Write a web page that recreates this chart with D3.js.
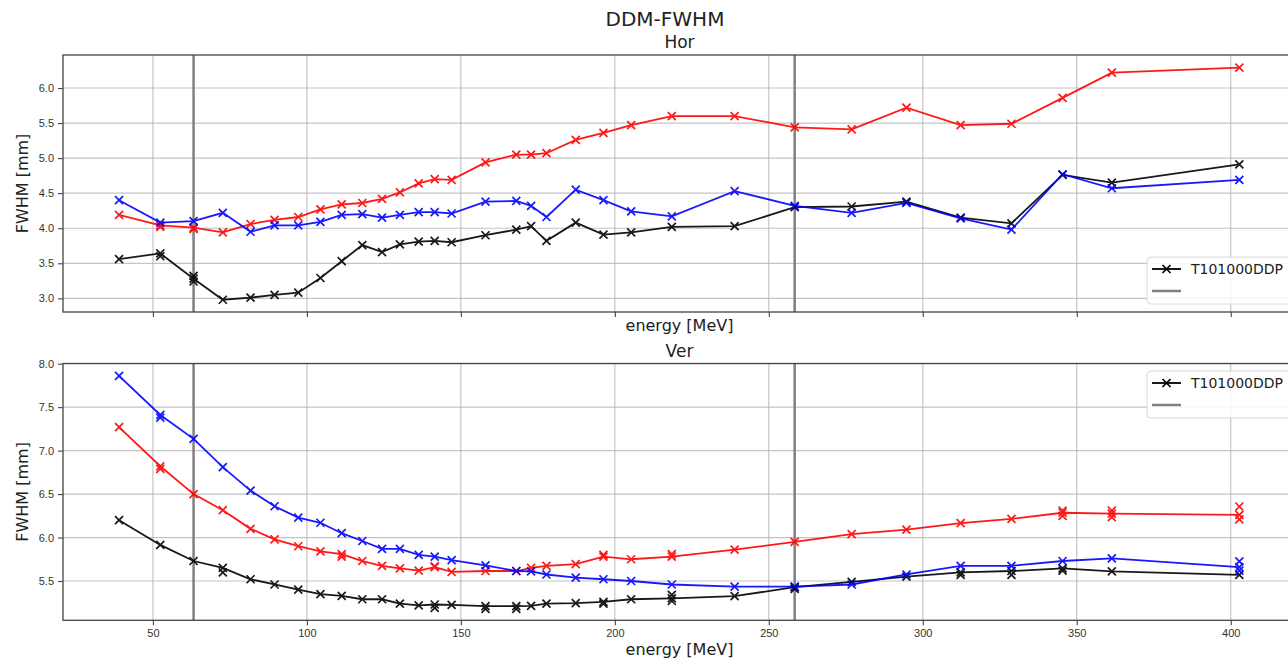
<!DOCTYPE html>
<html>
<head>
<meta charset="utf-8">
<script src="https://cdn.jsdelivr.net/npm/d3@7"></script>
<style>
  body { margin: 0; background: #fff; }
  svg { font-family: "DejaVu Sans", sans-serif; }
  .grid line { stroke: #b0b0b0; stroke-opacity: 0.75; stroke-width: 1.2; }
  .tick text { fill: #333; font-size: 11px; }
  .tick line { stroke: #444; stroke-width: 1.1; }
  .domain { display: none; }
</style>
</head>
<body>
<div class="container"></div>
<script>
// energies [MeV]
const energy = [39, 52.4, 63.2, 72.7, 81.7, 89.5, 97.2, 104.4, 111.3, 118, 124.4, 130.2, 136.3,
  141.5, 147, 158, 168, 172.8, 177.8, 187.3, 196.3, 205.3, 218.5, 238.9, 258.4, 276.9, 294.7,
  312.3, 328.8, 345.4, 361.4, 402.8];

// Hor FWHM [mm]
const horBlack = [3.56, 3.64, 3.28, 2.98, 3.01, 3.05, 3.08, 3.29, 3.53, 3.76, 3.66, 3.77, 3.81,
  3.82, 3.80, 3.90, 3.98, 4.03, 3.82, 4.08, 3.91, 3.94, 4.02, 4.03, 4.30, 4.31, 4.38,
  4.15, 4.07, 4.76, 4.65, 4.91];
const horRed = [4.19, 4.04, 4.01, 3.94, 4.06, 4.12, 4.16, 4.27, 4.34, 4.36, 4.42, 4.51, 4.64,
  4.70, 4.69, 4.94, 5.05, 5.05, 5.07, 5.26, 5.36, 5.47, 5.60, 5.60, 5.44, 5.41, 5.72,
  5.47, 5.49, 5.86, 6.22, 6.29];
const horBlue = [4.40, 4.08, 4.10, 4.22, 3.95, 4.04, 4.04, 4.09, 4.19, 4.20, 4.15, 4.19, 4.23,
  4.23, 4.21, 4.38, 4.39, 4.32, 4.16, 4.55, 4.40, 4.24, 4.17, 4.53, 4.32, 4.22, 4.36,
  4.14, 3.98, 4.77, 4.57, 4.69];

// Ver FWHM [mm]
const verBlack = [6.20, 5.915, 5.73, 5.65, 5.52, 5.46, 5.40, 5.35, 5.33, 5.29, 5.29, 5.24, 5.22,
  5.23, 5.225, 5.21, 5.21, 5.215, 5.24, 5.245, 5.26, 5.29, 5.30, 5.325, 5.43, 5.49, 5.55,
  5.60, 5.615, 5.645, 5.61, 5.57];
const verRed = [7.27, 6.82, 6.50, 6.315, 6.10, 5.98, 5.90, 5.84, 5.81, 5.73, 5.675, 5.645, 5.62,
  5.66, 5.605, 5.615, 5.615, 5.65, 5.675, 5.695, 5.78, 5.75, 5.78, 5.86, 5.95, 6.04, 6.09,
  6.165, 6.215, 6.285, 6.275, 6.26];
const verBlue = [7.86, 7.41, 7.135, 6.81, 6.54, 6.36, 6.23, 6.17, 6.05, 5.96, 5.87, 5.87, 5.80,
  5.78, 5.74, 5.68, 5.615, 5.61, 5.575, 5.54, 5.52, 5.50, 5.46, 5.435, 5.435, 5.46, 5.575,
  5.675, 5.675, 5.73, 5.76, 5.66];

// repeated measurements (energy, value) shown as extra markers
const horBlackRepeat = [[52.4, 3.60], [63.2, 3.24], [63.2, 3.32]];
const horRedRepeat = [[52.4, 4.02], [63.2, 3.99]];
const verBlackRepeat = [[72.7, 5.60], [141.5, 5.19], [158, 5.18], [168, 5.18], [196.3, 5.24],
  [218.5, 5.27], [218.5, 5.34], [258.4, 5.41], [312.3, 5.57], [328.8, 5.57], [345.4, 5.62]];
const verRedRepeat = [[52.4, 6.79], [111.3, 5.78], [141.5, 5.67], [196.3, 5.80], [218.5, 5.81],
  [345.4, 6.31], [345.4, 6.25], [361.4, 6.31], [361.4, 6.235], [402.8, 6.357], [402.8, 6.21]];
const verBlueRepeat = [[52.4, 7.38], [402.8, 5.725], [402.8, 5.62]];

const refLines = [63.2, 258.4];
const xTicks = [50, 100, 150, 200, 250, 300, 350, 400];
const horTicks = [3.0, 3.5, 4.0, 4.5, 5.0, 5.5, 6.0];
const verTicks = [5.5, 6.0, 6.5, 7.0, 7.5, 8.0];
const legendLabel = 'T101000DDP';

const WIDTH = 1288;
const HEIGHT = 661;
const LEFT = 63;
const RIGHT = 1296;

let translate = (x, y) => `translate(${x},${y})`;

let svg = d3.select('.container').append('svg')
  .attr('width', WIDTH)
  .attr('height', HEIGHT);

let xScale = d3.scaleLinear().domain([20.8, 421.2]).range([LEFT, RIGHT]);

svg.append('text')
  .attr('x', 665).attr('y', 26)
  .attr('text-anchor', 'middle')
  .attr('font-size', 20).attr('fill', '#222')
  .text('DDM-FWHM');

let drawMarker = (g, x, y, color) => {
  let r = 4;
  g.append('path')
    .attr('d', `M${x - r},${y - r}L${x + r},${y + r}M${x - r},${y + r}L${x + r},${y - r}`)
    .attr('stroke', color)
    .attr('stroke-width', 1.7);
};

const drawPanel = function (opt) {
  let yScale = d3.scaleLinear().domain(opt.domain).range([opt.bottom, opt.top]);
  let g = svg.append('g');

  // grid
  let grid = g.append('g').attr('class', 'grid');
  grid.selectAll('.gx').data(xTicks).enter().append('line')
    .attr('x1', d => xScale(d)).attr('x2', d => xScale(d))
    .attr('y1', opt.top).attr('y2', opt.bottom);
  grid.selectAll('.gy').data(opt.ticks).enter().append('line')
    .attr('x1', LEFT).attr('x2', RIGHT)
    .attr('y1', d => yScale(d)).attr('y2', d => yScale(d));

  // axes
  let xAxis = d3.axisBottom(xScale).tickValues(xTicks).tickSize(5).tickPadding(4)
    .tickFormat(opt.showX ? d3.format('d') : () => '');
  g.append('g').attr('transform', translate(0, opt.bottom)).call(xAxis);

  let yAxis = d3.axisLeft(yScale).tickValues(opt.ticks).tickSize(5).tickPadding(4)
    .tickFormat(d3.format('.1f'));
  g.append('g').attr('transform', translate(LEFT, 0)).call(yAxis);

  // reference lines
  g.selectAll('.ref').data(refLines).enter().append('line')
    .attr('x1', d => xScale(d)).attr('x2', d => xScale(d))
    .attr('y1', opt.top).attr('y2', opt.bottom)
    .attr('stroke', '#808080').attr('stroke-width', 2.5);

  // series
  let line = d3.line().x((d, i) => xScale(energy[i])).y(d => yScale(d));
  opt.series.forEach(s => {
    let sg = g.append('g').attr('opacity', 0.9);
    sg.append('path')
      .attr('d', line(s.values))
      .attr('fill', 'none')
      .attr('stroke', s.color)
      .attr('stroke-width', 1.8);
    s.values.forEach((v, i) => drawMarker(sg, xScale(energy[i]), yScale(v), s.color));
    s.repeat.forEach(p => drawMarker(sg, xScale(p[0]), yScale(p[1]), s.color));
  });

  // frame
  g.append('rect')
    .attr('x', LEFT).attr('y', opt.top)
    .attr('width', RIGHT - LEFT).attr('height', opt.bottom - opt.top)
    .attr('fill', 'none').attr('stroke', '#444').attr('stroke-width', 1.3);

  // titles
  g.append('text')
    .attr('x', (LEFT + RIGHT) / 2).attr('y', opt.top - 7)
    .attr('text-anchor', 'middle').attr('font-size', 17).attr('fill', '#222')
    .text(opt.title);
  g.append('text')
    .attr('x', (LEFT + RIGHT) / 2).attr('y', opt.xlabelY)
    .attr('text-anchor', 'middle').attr('font-size', 16).attr('fill', '#222')
    .text('energy [MeV]');
  g.append('text')
    .attr('transform', translate(28, (opt.top + opt.bottom) / 2) + ' rotate(-90)')
    .attr('text-anchor', 'middle').attr('font-size', 16).attr('fill', '#222')
    .text('FWHM [mm]');

  // legend
  let lg = g.append('g').attr('transform', translate(1147, opt.legendY));
  lg.append('rect')
    .attr('width', 160).attr('height', 47).attr('rx', 4)
    .attr('fill', '#fff').attr('fill-opacity', 0.85)
    .attr('stroke', '#d8d8d8');
  lg.append('line').attr('x1', 5).attr('x2', 34).attr('y1', 12).attr('y2', 12)
    .attr('stroke', '#000').attr('stroke-width', 1.8);
  drawMarker(lg, 19.5, 12, '#000');
  lg.append('text').attr('x', 44).attr('y', 17)
    .attr('font-size', 14).attr('fill', '#222').text(legendLabel);
  lg.append('line').attr('x1', 5).attr('x2', 34).attr('y1', 34).attr('y2', 34)
    .attr('stroke', '#808080').attr('stroke-width', 2.5);
};

drawPanel({
  top: 55, bottom: 312, domain: [2.805, 6.471], ticks: horTicks, showX: false,
  title: 'Hor', xlabelY: 331, legendY: 257,
  series: [
    {values: horBlack, repeat: horBlackRepeat, color: '#000'},
    {values: horRed, repeat: horRedRepeat, color: '#ff0000'},
    {values: horBlue, repeat: [], color: '#0000ff'}
  ]
});

drawPanel({
  top: 363.5, bottom: 620.3, domain: [5.048, 8.002], ticks: verTicks, showX: true,
  title: 'Ver', xlabelY: 655, legendY: 371,
  series: [
    {values: verBlack, repeat: verBlackRepeat, color: '#000'},
    {values: verRed, repeat: verRedRepeat, color: '#ff0000'},
    {values: verBlue, repeat: verBlueRepeat, color: '#0000ff'}
  ]
});
</script>
</body>
</html>
